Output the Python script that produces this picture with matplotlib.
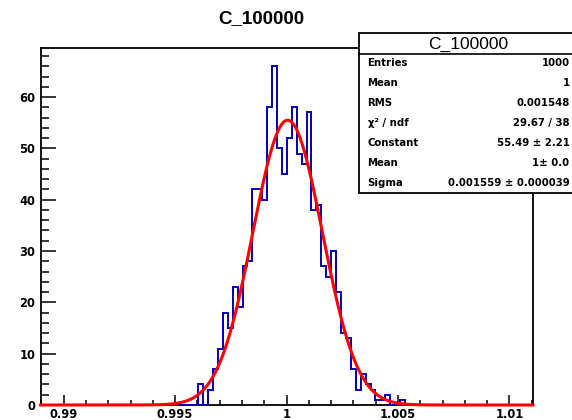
import numpy as np
import matplotlib
matplotlib.use("Agg")
import matplotlib.pyplot as plt
from matplotlib.patches import Rectangle
from matplotlib.lines import Line2D
from matplotlib.ticker import MultipleLocator, FixedLocator

# ---------------- data ----------------
title = "C_100000"
x_min, x_max = 0.98897, 1.01106
n_bins = 100
# bin contents (bins 0..99); non-zero region
counts = [0] * 32 + [
    4, 0, 3, 7, 11, 18, 15, 23, 19, 27,      # bins 32-41
    28, 42, 42, 40, 58, 66, 50, 45, 52, 58,  # bins 42-51
    49, 47, 57, 38, 39, 27, 25, 30, 22, 14,  # bins 52-61
    13, 7, 3, 6, 4, 3, 1, 1, 2, 0,           # bins 62-71
    0, 1,                                    # bins 72-73
] + [0] * 26

fit_constant = 55.49
fit_mean = 1.00005
fit_sigma = 0.001559

x_ticks = [0.99, 0.995, 1.0, 1.005, 1.01]
x_tick_labels = ["0.99", "0.995", "1", "1.005", "1.01"]
y_ticks = [0, 10, 20, 30, 40, 50, 60]
y_max = 69.5

stat_labels = ["Entries", "Mean", "RMS", "χ² / ndf", "Constant", "Mean", "Sigma"]
stat_values = ["1000", "1", "0.001548", "29.67 / 38", "55.49 ± 2.21", "1± 0.0",
               "0.001559 ± 0.000039"]

# ---------------- figure ----------------
W, H = 572, 420
fig = plt.figure(figsize=(W / 100, H / 100), dpi=100)
fig.patch.set_facecolor("white")

ax_l, ax_r, ax_t, ax_b = 40.7, 533.0, 48.3, 405.0
ax = fig.add_axes([ax_l / W, 1 - ax_b / H, (ax_r - ax_l) / W, (ax_b - ax_t) / H])

edges = np.linspace(x_min, x_max, n_bins + 1)
ax.stairs(counts, edges, color="#0000b0", lw=1.4, zorder=3)

xf = np.linspace(x_min, x_max, 800)
yf = fit_constant * np.exp(-0.5 * ((xf - fit_mean) / fit_sigma) ** 2)
ax.plot(xf, yf, color="#ff0000", lw=2.2, zorder=4, clip_on=False)

ax.set_xlim(x_min, x_max)
ax.set_ylim(0, y_max)

ax.xaxis.set_major_locator(FixedLocator(x_ticks))
ax.set_xticklabels(x_tick_labels)
ax.xaxis.set_minor_locator(MultipleLocator(0.001))
ax.yaxis.set_major_locator(FixedLocator(y_ticks))
ax.yaxis.set_minor_locator(MultipleLocator(2))

for lab in ax.get_xticklabels() + ax.get_yticklabels():
    lab.set_fontfamily("DejaVu Sans")
    lab.set_fontweight("bold")
    lab.set_fontsize(8.3)

ax.tick_params(axis="x", which="major", direction="in", length=7, width=1.1, pad=2.5,
               top=False)
ax.tick_params(axis="x", which="minor", direction="in", length=3.5, width=1.1, top=False)
ax.tick_params(axis="y", which="major", direction="in", length=11, width=1.1, pad=4,
               right=False)
ax.tick_params(axis="y", which="minor", direction="in", length=5.5, width=1.1, right=False)

for s in ax.spines.values():
    s.set_linewidth(1.3)
    s.set_color("black")

# main title
fig.text(261 / W, 1 - 19 / H, title, ha="center", va="center",
         fontfamily="Liberation Sans", fontweight="bold", fontsize=13.5)

# stats box
bx_l, bx_r, bx_t, bx_sep, bx_b = 359.0, 577.0, 33.3, 54.3, 193.0
box = Rectangle((bx_l / W, 1 - bx_b / H), (bx_r - bx_l) / W, (bx_b - bx_t) / H,
                transform=fig.transFigure, facecolor="white", edgecolor="black",
                lw=1.3, zorder=10, clip_on=False)
fig.patches.append(box)
fig.lines.append(Line2D([bx_l / W, bx_r / W], [1 - bx_sep / H, 1 - bx_sep / H],
                        transform=fig.transFigure, color="black", lw=1.2, zorder=11))
fig.text(468 / W, 1 - 44 / H, title, ha="center", va="center",
         fontfamily="Liberation Sans", fontsize=12.5, zorder=12)

row_y = [63, 83, 103, 123, 143, 163, 183]
for lab, val, y in zip(stat_labels, stat_values, row_y):
    fig.text(367.5 / W, 1 - y / H, lab, ha="left", va="center",
             fontfamily="DejaVu Sans", fontweight="bold", fontsize=7.3, zorder=12)
    fig.text(569.5 / W, 1 - y / H, val, ha="right", va="center",
             fontfamily="DejaVu Sans", fontweight="bold", fontsize=7.3, zorder=12)

fig.savefig("out.png", dpi=100)
